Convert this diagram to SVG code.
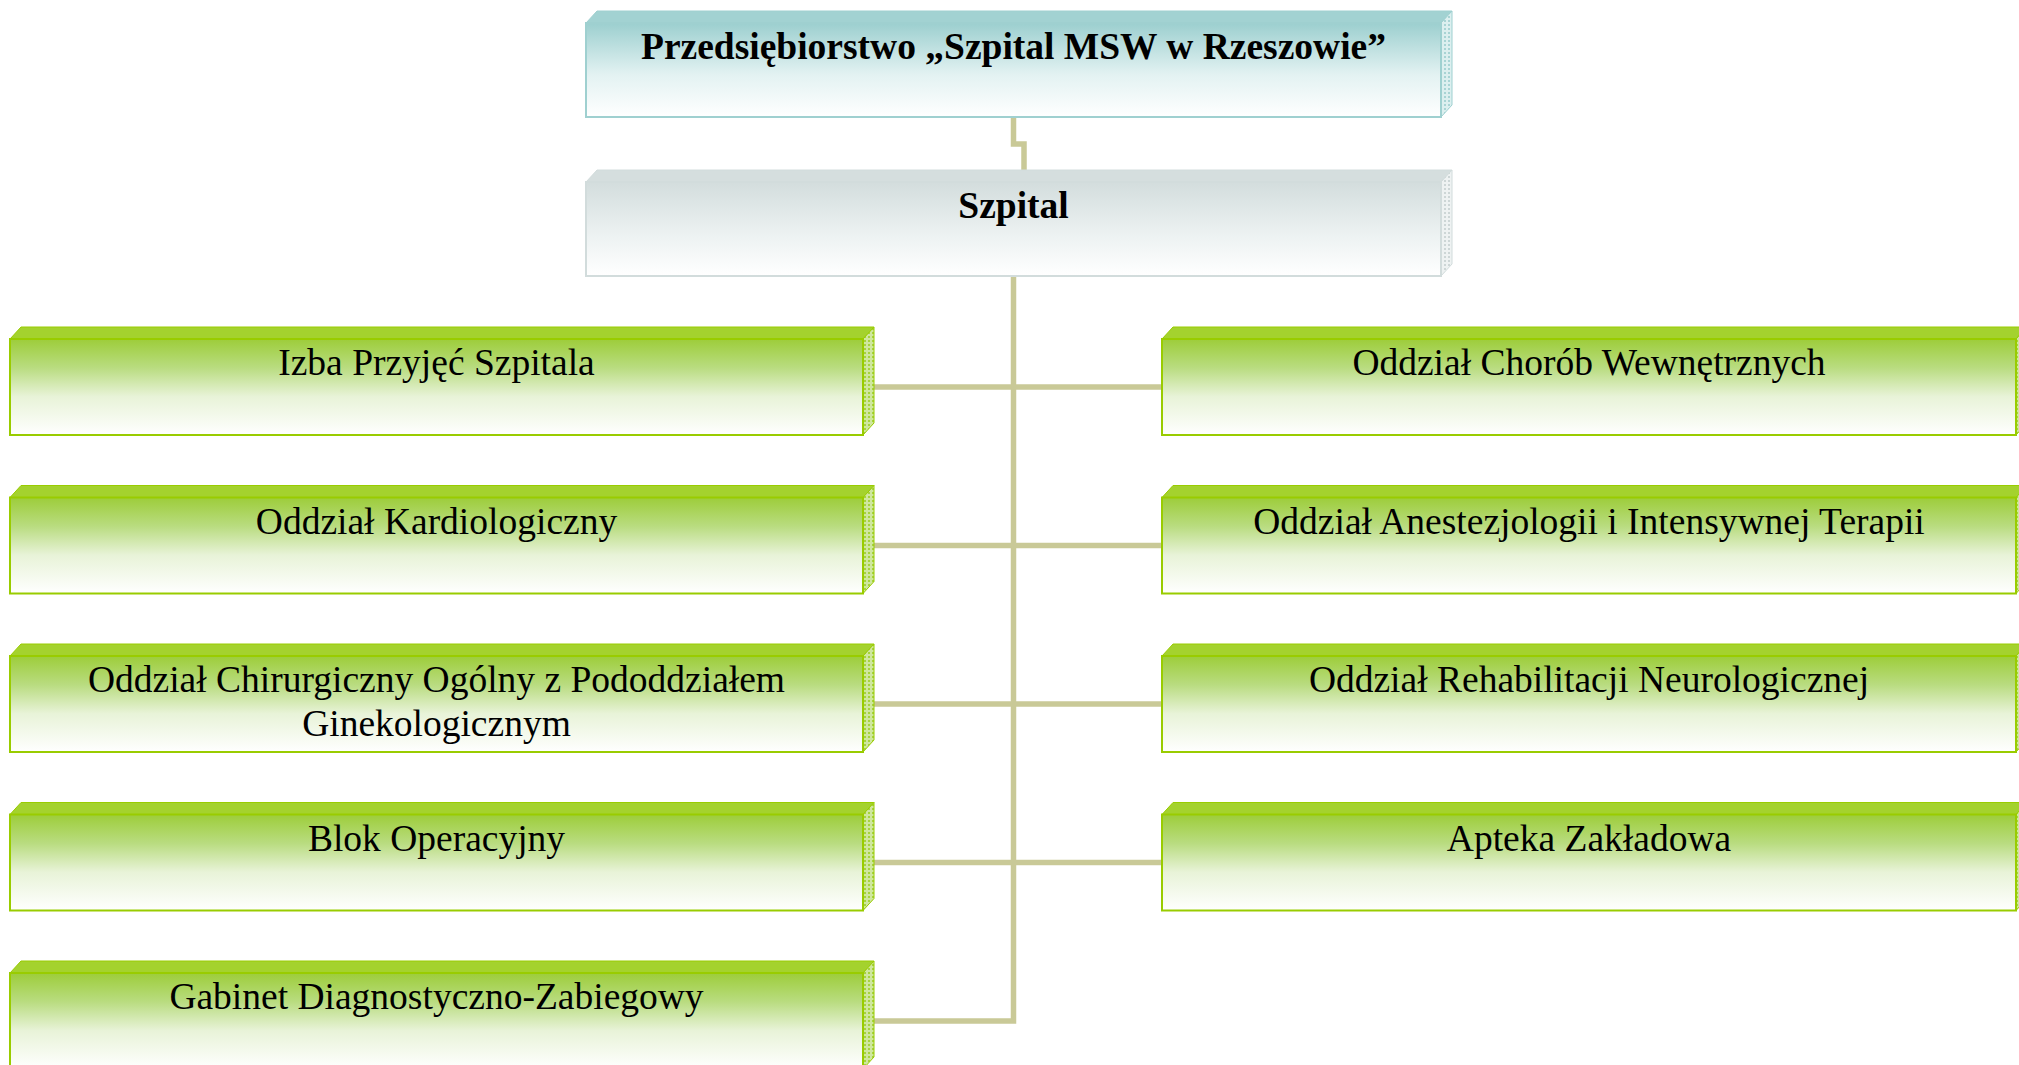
<svg xmlns="http://www.w3.org/2000/svg" width="2019" height="1065" viewBox="0 0 2019 1065">
<defs>
<linearGradient id="gTeal" x1="0" y1="0" x2="0" y2="1">
<stop offset="0" stop-color="#9ccfcf"/><stop offset="0.55" stop-color="#e3f2f2"/><stop offset="1" stop-color="#ffffff"/>
</linearGradient>
<linearGradient id="gGray" x1="0" y1="0" x2="0" y2="1">
<stop offset="0" stop-color="#d3dddd"/><stop offset="0.6" stop-color="#eef3f3"/><stop offset="1" stop-color="#ffffff"/>
</linearGradient>
<linearGradient id="gGreen" x1="0" y1="0" x2="0" y2="1">
<stop offset="0" stop-color="#9dcd3a"/><stop offset="0.3" stop-color="#b9dc80"/><stop offset="0.6" stop-color="#e8f3d8"/><stop offset="1" stop-color="#ffffff"/>
</linearGradient>
<pattern id="pGreen" width="4" height="4" patternUnits="userSpaceOnUse">
<rect width="4" height="4" fill="#cfe79e"/><rect width="2" height="2" fill="#a6d23c"/>
</pattern>
<pattern id="pTeal" width="4" height="4" patternUnits="userSpaceOnUse">
<rect width="4" height="4" fill="#dcefef"/><rect width="2" height="2" fill="#a8d4d4"/>
</pattern>
<pattern id="pGray" width="4" height="4" patternUnits="userSpaceOnUse">
<rect width="4" height="4" fill="#eef2f2"/><rect width="2" height="2" fill="#cdd6d6"/>
</pattern>
</defs>
<style>
.con{fill:none;stroke:#c9c997;stroke-width:5.5}
.gt{fill:#a4d22e;stroke:#99cc00;stroke-width:1}
.gs{fill:url(#pGreen);stroke:#99cc00;stroke-width:1}
.gf{fill:url(#gGreen);stroke:#99cc00;stroke-width:2}
.tt{fill:#a2d2d2;stroke:#9fd0d0;stroke-width:1}
.ts{fill:url(#pTeal);stroke:#9fd0d0;stroke-width:1}
.tf{fill:url(#gTeal);stroke:#9fd0d0;stroke-width:2}
.yt{fill:#d5dede;stroke:#d2dcdc;stroke-width:1}
.ys{fill:url(#pGray);stroke:#d2dcdc;stroke-width:1}
.yf{fill:url(#gGray);stroke:#d2dcdc;stroke-width:2}
text{font-family:"Liberation Serif","Times New Roman",serif;fill:#000;text-anchor:middle}
.b{font-weight:bold;font-size:37.5px}
.n{font-size:37.5px}
</style>
<g id="connectors">
<path class="con" d="M1013.5 117 V144 H1024 V176"/>
<path class="con" d="M1013.5 276 V1021 H870"/>
<path class="con" d="M870 387 H1165"/>
<path class="con" d="M870 545.5 H1165"/>
<path class="con" d="M870 704 H1165"/>
<path class="con" d="M870 862.5 H1165"/>
</g>
<g id="node-przedsiebiorstwo">
<polygon class="tt" points="586,23 597,11 1452,11 1441,23"/>
<polygon class="ts" points="1441,23 1452,11 1452,105 1441,117"/>
<rect class="tf" x="586" y="23" width="855" height="94"/>
<text class="b" x="1013.5" y="59">Przedsiębiorstwo „Szpital MSW w Rzeszowie”</text>
</g>
<g id="node-szpital">
<polygon class="yt" points="586,182 597,170 1452,170 1441,182"/>
<polygon class="ys" points="1441,182 1452,170 1452,264 1441,276"/>
<rect class="yf" x="586" y="182" width="855" height="94"/>
<text class="b" x="1013.5" y="218">Szpital</text>
</g>
<g id="node-izba">
<polygon class="gt" points="10,339 21,327 874,327 863,339"/>
<polygon class="gs" points="863,339 874,327 874,423 863,435"/>
<rect class="gf" x="10" y="339" width="853" height="96"/>
<text class="n" x="436.5" y="375">Izba Przyjęć Szpitala</text>
</g>
<g id="node-kardiologiczny">
<polygon class="gt" points="10,497.5 21,485.5 874,485.5 863,497.5"/>
<polygon class="gs" points="863,497.5 874,485.5 874,581.5 863,593.5"/>
<rect class="gf" x="10" y="497.5" width="853" height="96"/>
<text class="n" x="436.5" y="533.5">Oddział Kardiologiczny</text>
</g>
<g id="node-chirurgiczny">
<polygon class="gt" points="10,656 21,644 874,644 863,656"/>
<polygon class="gs" points="863,656 874,644 874,740 863,752"/>
<rect class="gf" x="10" y="656" width="853" height="96"/>
<text class="n" x="436.5" y="692">Oddział Chirurgiczny Ogólny z Pododdziałem</text>
<text class="n" x="436.5" y="736">Ginekologicznym</text>
</g>
<g id="node-blok">
<polygon class="gt" points="10,814.5 21,802.5 874,802.5 863,814.5"/>
<polygon class="gs" points="863,814.5 874,802.5 874,898.5 863,910.5"/>
<rect class="gf" x="10" y="814.5" width="853" height="96"/>
<text class="n" x="436.5" y="850.5">Blok Operacyjny</text>
</g>
<g id="node-gabinet">
<polygon class="gt" points="10,973 21,961 874,961 863,973"/>
<polygon class="gs" points="863,973 874,961 874,1057 863,1069"/>
<rect class="gf" x="10" y="973" width="853" height="96"/>
<text class="n" x="436.5" y="1009">Gabinet Diagnostyczno-Zabiegowy</text>
</g>
<g id="node-chorob">
<polygon class="gt" points="1162,339 1173,327 2027,327 2016,339"/>
<polygon class="gs" points="2016,339 2027,327 2027,423 2016,435"/>
<rect class="gf" x="1162" y="339" width="854" height="96"/>
<text class="n" x="1589" y="375">Oddział Chorób Wewnętrznych</text>
</g>
<g id="node-anestezjologii">
<polygon class="gt" points="1162,497.5 1173,485.5 2027,485.5 2016,497.5"/>
<polygon class="gs" points="2016,497.5 2027,485.5 2027,581.5 2016,593.5"/>
<rect class="gf" x="1162" y="497.5" width="854" height="96"/>
<text class="n" x="1589" y="533.5">Oddział Anestezjologii i Intensywnej Terapii</text>
</g>
<g id="node-rehabilitacji">
<polygon class="gt" points="1162,656 1173,644 2027,644 2016,656"/>
<polygon class="gs" points="2016,656 2027,644 2027,740 2016,752"/>
<rect class="gf" x="1162" y="656" width="854" height="96"/>
<text class="n" x="1589" y="692">Oddział Rehabilitacji Neurologicznej</text>
</g>
<g id="node-apteka">
<polygon class="gt" points="1162,814.5 1173,802.5 2027,802.5 2016,814.5"/>
<polygon class="gs" points="2016,814.5 2027,802.5 2027,898.5 2016,910.5"/>
<rect class="gf" x="1162" y="814.5" width="854" height="96"/>
<text class="n" x="1589" y="850.5">Apteka Zakładowa</text>
</g>
</svg>
